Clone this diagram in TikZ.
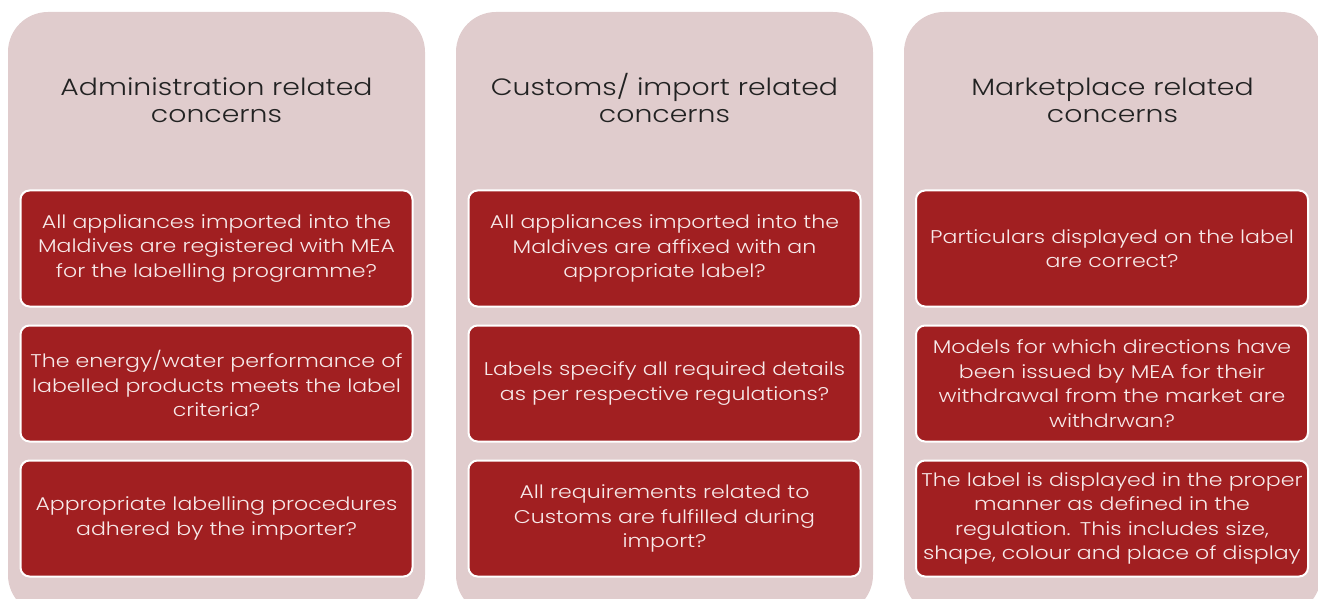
\documentclass[tikz,border=0pt]{standalone}
\usepackage{fontspec}
\setmainfont{Poppins}[UprightFont=* Light, FakeStretch=1.2]
\definecolor{panelfill}{HTML}{E0CCCD}
\definecolor{boxred}{HTML}{A11F21}
\definecolor{boxtext}{HTML}{F7E9E9}
\definecolor{titletext}{HTML}{222222}
\begin{document}
\begin{tikzpicture}[x=1pt,y=-1pt,
  panel/.style={fill=panelfill, draw=none, rounded corners=40pt, minimum width=417pt, minimum height=603pt, inner sep=0pt},
  item/.style={draw=white, line width=2pt, fill=boxred, rounded corners=9pt, minimum width=392pt, minimum height=116pt, text width=388pt, align=center, text=boxtext, font=\fontsize{18.4}{24.5}\selectfont, inner sep=0pt},
  title/.style={text=titletext, align=center, font=\fontsize{23.6}{27}\selectfont, inner sep=0pt}]
\useasboundingbox (0,0) rectangle (1318,599);
\clip (0,0) rectangle (1318,599);
\node[panel] (p1) at (216.5,313.5) {};
\node[panel] (p2) at (664.5,313.5) {};
\node[panel] (p3) at (1112.5,313.5) {};
\node[title] (t1) at (216.5,100.5) {Administration related\\concerns};
\node[title] (t2) at (664.5,98.5) {Customs/ import related\\concerns};
\node[title] (t3) at (1112.5,100.5) {Marketplace related\\concerns};
\node[item] (a1) at (216.5,248.5) {All appliances imported into the\\Maldives are registered with MEA\\for the labelling programme?};
\node[item] (a2) at (216.5,383.5) {The energy/water performance of\\labelled products meets the label\\criteria?};
\node[item] (a3) at (216.5,518.5) {Appropriate labelling procedures\\adhered by the importer?};
\node[item] (b1) at (664.5,248.5) {All appliances imported into the\\Maldives are affixed with an\\appropriate label?};
\node[item] (b2) at (664.5,383.5) {Labels specify all required details\\as per respective regulations?};
\node[item] (b3) at (664.5,518.5) {All requirements related to\\Customs are fulfilled during\\import?};
\node[item] (c1) at (1112,248.5) {Particulars displayed on the label\\are correct?};
\node[item] (c2) at (1112,383.5) {Models for which directions have\\been issued by MEA for their\\withdrawal from the market are\\withdrwan?};
\node[item] (c3) at (1112,518.5) {The label is displayed in the proper\\manner as defined in the\\regulation. This includes size,\\shape, colour and place of display};
\end{tikzpicture}
\end{document}
